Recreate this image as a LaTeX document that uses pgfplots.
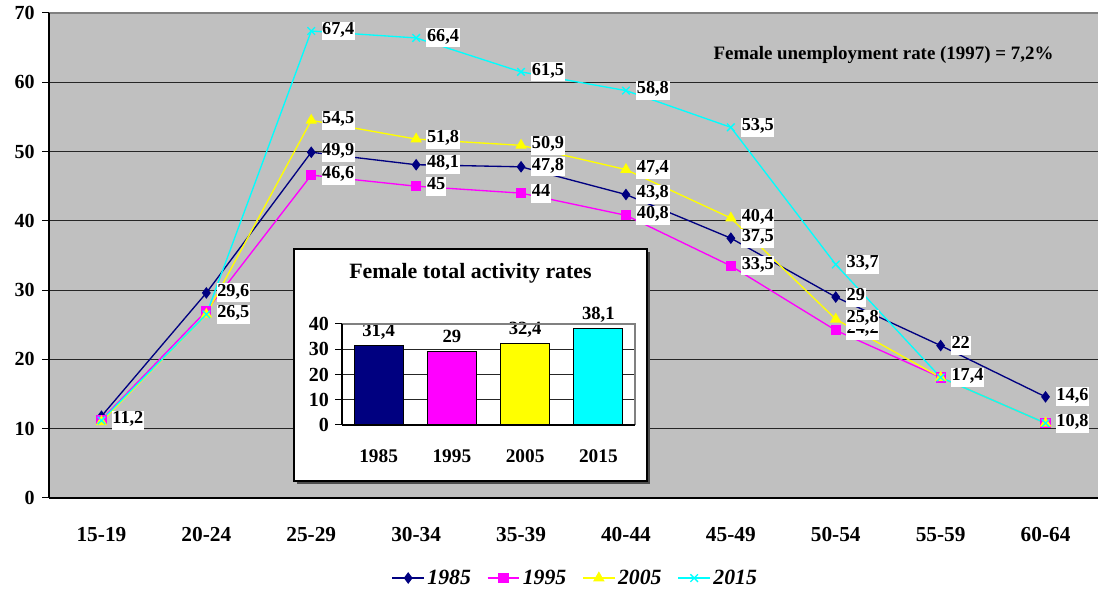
\documentclass[border=0pt]{standalone}
\usepackage{fontspec}
\setmainfont{Liberation Serif}
\usepackage{pgfplots}
\usepackage{pgfplotstable}
\pgfplotsset{compat=1.18}

\definecolor{plotgray}{HTML}{C0C0C0}
\definecolor{navyline}{HTML}{000080}
\definecolor{magline}{HTML}{FF00FF}
\definecolor{yelline}{HTML}{FFFF00}
\definecolor{cyanline}{HTML}{00FFFF}

% Female activity rates by age group (x = age group index)
\pgfplotstableread{
x  y85  y95  y05  y15
0  11.8 11.3 11.0 11.2
1  29.6 27.0 26.5 26.5
2  49.9 46.6 54.5 67.4
3  48.1 45.0 51.8 66.4
4  47.8 44.0 50.9 61.5
5  43.8 40.8 47.4 58.8
6  37.5 33.5 40.4 53.5
7  29.0 24.2 25.8 33.7
8  22.0 17.4 17.4 17.4
9  14.6 10.8 10.8 10.8
}\rates

\pgfplotsset{
  /pgf/number format/assume math mode=true,
  /pgf/number format/use comma,
  /pgf/number format/fixed,
  /pgf/number format/precision=1,
  valuelabel/.style={
    draw=none, forget plot, nodes near coords,
    nodes near coords style={anchor=west, fill=white, xshift=7.5pt,
      inner xsep=0.5pt, inner ysep=2.5pt, text height=0.7em, text depth=0.22em,
      font=\fontsize{13.7}{15}\selectfont\bfseries, text=black},
  },
}

\begin{document}
\begin{tikzpicture}[x=0.75pt,y=0.75pt]
\path[use as bounding box] (0,0) rectangle (1098,591);

\begin{axis}[
  at={(36.75pt,69.75pt)}, anchor=south west,
  scale only axis, width=786.75pt, height=363.75pt,
  xmin=-0.5, xmax=9.5, ymin=0, ymax=70,
  axis background/.style={fill=plotgray},
  axis line style={draw=none},
  ytick={0,10,...,70},
  xtick={0,...,9},
  xticklabels={15-19,20-24,25-29,30-34,35-39,40-44,45-49,50-54,55-59,60-64},
  minor xtick={-0.5,0.5,...,9.5},
  tick pos=left, tick align=outside,
  major tick length=5.25pt, minor tick length=5.25pt,
  xtick style={draw=none},
  minor x tick style={black, line width=0.75pt},
  ytick style={black, line width=0.75pt},
  ymajorgrids,
  major grid style={black!85, line width=0.75pt},
  yticklabel style={font=\fontsize{15}{17}\selectfont\bfseries, xshift=-2pt},
  xticklabel style={font=\fontsize{16}{18}\selectfont\bfseries, yshift=-13pt},
  legend style={at={(0.502,-0.165)}, anchor=center, legend columns=4,
    draw=none, fill=none, font=\fontsize{16.3}{18}\selectfont\bfseries\itshape,
    /tikz/every even column/.append style={column sep=10pt},
    inner sep=0pt},
  legend image code/.code={
    \draw[mark repeat=2, mark phase=2] plot coordinates {(0cm,0cm) (0.42cm,0cm) (0.84cm,0cm)};},
  after end axis/.code={
    \draw[black!50, line width=1pt] (rel axis cs:0,1) -- (rel axis cs:1,1);
    \draw[black, line width=1pt] (rel axis cs:0,0) -- (rel axis cs:0,1);
    \draw[black, line width=1pt] (rel axis cs:0,0) -- (rel axis cs:1,0);
  },
]
\addplot[navyline, line width=1pt, mark=diamond*, mark size=3.6pt,
  mark options={fill=navyline, solid}] table[x=x, y=y85] {\rates};
\addlegendentry{1985}
\addplot[magline, line width=1pt, mark=square*, mark size=3.3pt,
  mark options={fill=magline, solid}] table[x=x, y=y95] {\rates};
\addlegendentry{1995}
\addplot[yelline, line width=1pt, mark=triangle*, mark size=4pt,
  mark options={fill=yelline, solid}] table[x=x, y=y05] {\rates};
\addlegendentry{2005}
\addplot[cyanline, line width=1pt, mark=x, mark size=4pt,
  mark options={solid, line width=1pt}] table[x=x, y=y15] {\rates};
\addlegendentry{2015}

% value labels, drawn above all lines
\addplot[valuelabel] coordinates {(1,29.6) (2,49.9) (3,48.1) (4,47.8) (5,43.8) (6,37.5) (7,29) (8,22) (9,14.6)};
\addplot[valuelabel] coordinates {(2,46.6) (3,45) (4,44) (5,40.8) (6,33.5) (7,24.2)};
\addplot[valuelabel] coordinates {(2,54.5) (3,51.8) (4,50.9) (5,47.4) (6,40.4) (7,25.8)};
\addplot[valuelabel] coordinates {(0,11.2) (1,26.5) (2,67.4) (3,66.4) (4,61.5) (5,58.8) (6,53.5) (7,33.7) (8,17.4) (9,10.8)};
\end{axis}

\node[font=\fontsize{14.2}{16}\selectfont\bfseries] at (883.5,536) {Female unemployment rate (1997) = 7,2\%};

% inset panel
\fill[black!70] (297,107) rectangle (650,339);
\draw[fill=white, draw=black, line width=1pt] (294,110) rectangle (647,342);
\node[font=\fontsize{16.4}{18}\selectfont\bfseries, text=black] at (470.5,318) {Female total activity rates};

\begin{axis}[
  at={(256.5pt,124.5pt)}, anchor=south west,
  scale only axis, width=219.75pt, height=75.75pt,
  xmin=-0.5, xmax=3.5, ymin=0, ymax=40,
  axis line style={draw=none},
  ytick={0,10,...,40},
  xtick={0,...,3}, xticklabels={1985,1995,2005,2015},
  minor xtick={-0.5,0.5,...,3.5},
  tick pos=left, tick align=outside,
  major tick length=5.25pt, minor tick length=5.25pt,
  xtick style={draw=none},
  minor x tick style={black, line width=0.75pt},
  ytick style={black, line width=0.75pt},
  ymajorgrids,
  major grid style={black!85, line width=0.75pt},
  yticklabel style={font=\fontsize{15}{17}\selectfont\bfseries, xshift=-1pt},
  xticklabel style={font=\fontsize{14.5}{16}\selectfont\bfseries, yshift=-10pt},
  ybar, bar width=36.75pt,
  nodes near coords,
  nodes near coords style={fill=white, inner xsep=0.5pt, inner ysep=2pt,
    text height=0.7em, text depth=0.22em, yshift=2pt,
    font=\fontsize{14}{16}\selectfont\bfseries, text=black},
  after end axis/.code={
    \draw[black!50, line width=1pt] (rel axis cs:0,1) -- (rel axis cs:1,1) -- (rel axis cs:1,0);
    \draw[black, line width=1pt] (rel axis cs:0,0) -- (rel axis cs:0,1);
    \draw[black, line width=1pt] (rel axis cs:0,0) -- (rel axis cs:1,0);
  },
]
\addplot[bar shift=0pt, fill=navyline, draw=black, line width=0.9pt] coordinates {(0,31.4)};
\addplot[bar shift=0pt, fill=magline, draw=black, line width=0.9pt] coordinates {(1,29)};
\addplot[bar shift=0pt, fill=yelline, draw=black, line width=0.9pt] coordinates {(2,32.4)};
\addplot[bar shift=0pt, fill=cyanline, draw=black, line width=0.9pt] coordinates {(3,38.1)};
\end{axis}
\end{tikzpicture}
\end{document}
